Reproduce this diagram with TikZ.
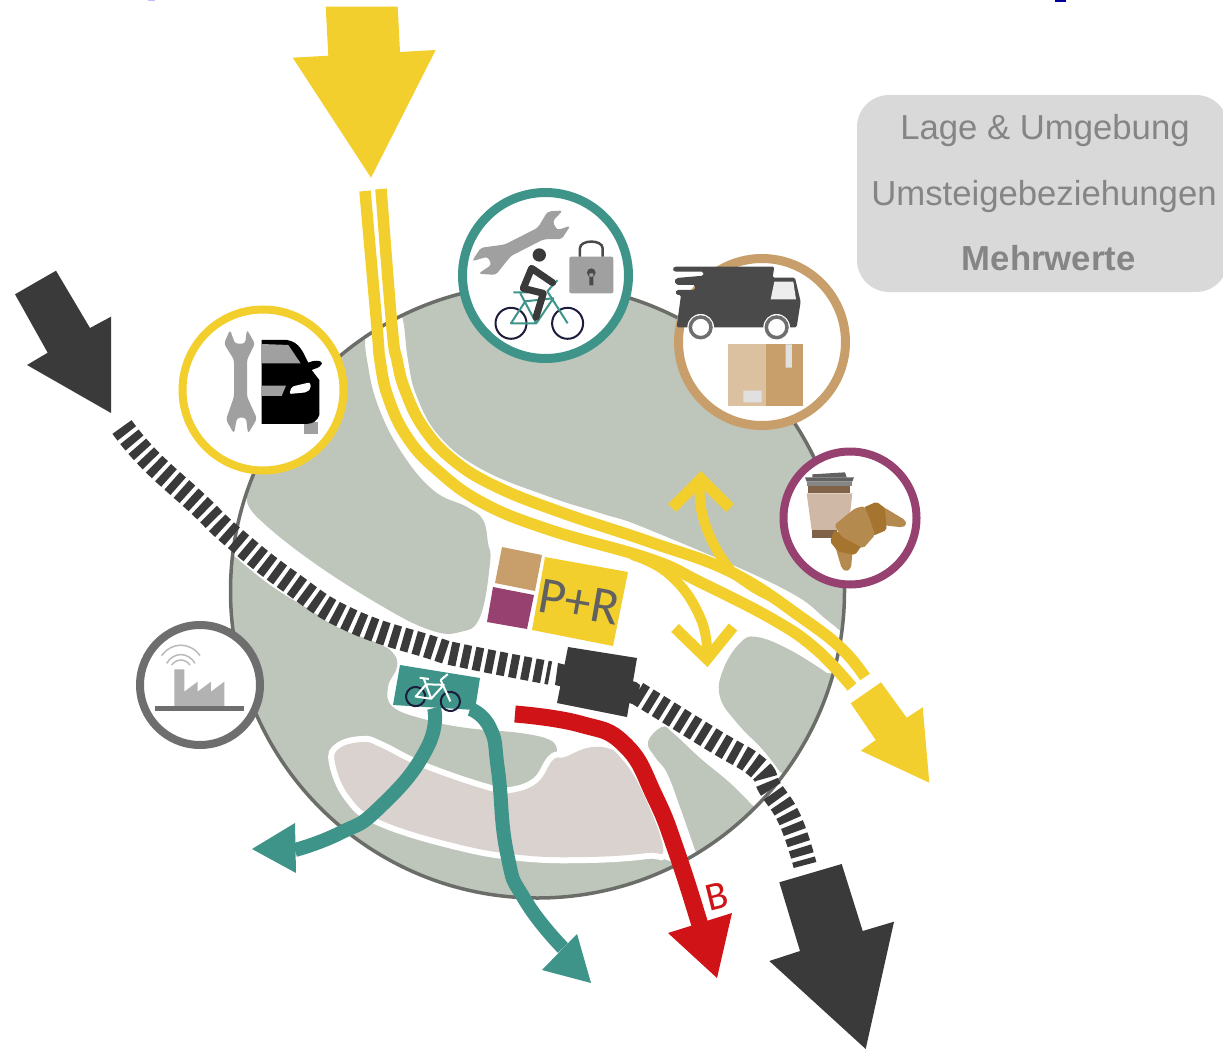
\documentclass[tikz,border=0pt]{standalone}
\usepackage{fontspec}
\setmainfont{Liberation Sans}
\newfontfamily\signfont{Carlito}

\definecolor{roadyellow}{HTML}{F3CF2E}
\definecolor{bikegreen}{HTML}{3F9489}
\definecolor{parcelbrown}{HTML}{C89F6B}
\definecolor{cafepurple}{HTML}{964170}
\definecolor{busred}{HTML}{D01317}
\definecolor{raildark}{HTML}{3A3A3A}
\definecolor{areagreen}{HTML}{BEC6BB}
\definecolor{areaedge}{HTML}{6B6E68}
\definecolor{parkbeige}{HTML}{D9D2CE}
\definecolor{iconwheel}{HTML}{1C1C3C}
\definecolor{icongray}{HTML}{A0A0A0}
\definecolor{truckgray}{HTML}{4A4A4A}
\definecolor{crustlight}{HTML}{B58A4E}
\definecolor{crustdark}{HTML}{A5742F}
\definecolor{cupbrown}{HTML}{806248}
\definecolor{cupbody}{HTML}{D0B8A6}

\tikzset{
  ring/.style = {draw, circle, fill=white, inner sep=0pt, outer sep=0pt},
  sleepers/.style = {draw=raildark, line width=23.5pt, dash pattern=on 8pt off 4.3pt},
  road/.style = {draw=roadyellow, line width=11.5pt},
  branch/.style = {draw=roadyellow, line width=10pt},
  chevron/.style = {draw=roadyellow, line width=11pt, miter limit=10},
  cycle path/.style = {draw=bikegreen, line width=14pt},
  zoomed/.style = {x=0.3333pt, y=-0.3333pt},
  legend/.style = {text=black!48, anchor=base, font=\fontsize{34.7}{40}\selectfont},
  pics/wrench/.style = {code={
    \fill[icongray, rounded corners=3pt] (-10,-52) -- (-5,-38) -- (5,-38) -- (7,-52) -- (15,-38) -- (7,-22)
      -- (7,15) -- (17,37) -- (8,52) -- (6,36) -- (-3,36) -- (-6,52) -- (-14,38) -- (-6,15)
      -- (-6,-22) -- (-16,-38) -- cycle;
  }},
  pics/bikeicon/.style = {code={
    \draw[iconwheel, line width=2pt] (-28.3,0) circle (15.5) (28.3,0) circle (15.5);
    \draw[#1, line width=2pt, line join=round] (-28.3,0) -- (-14,-22) -- (14,-25) -- (-3,0) -- cycle
      (-19,-30) -- (-3,0) (8,-32) -- (28.3,0);
    \draw[#1, line width=2pt] (-26,-31) -- (-11,-31) (8,-32) -- (18,-43);
  }}
}

\begin{document}
\begin{tikzpicture}[x=1pt, y=-1pt]
  \useasboundingbox (0,0) rectangle (1223,1051);

  % leftovers of the cut off title
  \fill[blue!60!black] (1055,0) rectangle (1066,2);
  \fill[blue!25] (148,0) rectangle (155,1.5);

  % area with its green patches
  \fill[white] (537.5,591) circle (307);
  \begin{scope}
    \clip (537.5,591) circle (307);
    \fill[areagreen] plot[smooth, tension=.7] coordinates {(395,300) (403,320) (408,360) (417,397) (440,437) (483,470) (550,497) (600,513) (650,530) (780,587) (827,620) (850,640)}
      -- (900,640) -- (900,200) -- (395,200) -- cycle;
    \fill[areagreen] plot[smooth, tension=.7] coordinates {(365,340) (367,360) (377,403) (400,450) (433,490) (467,507) (483,520) (488,543) (490,563) (480,617) (460,632) (430,630) (380,605) (310,560) (258,518) (247,500)}
      -- (240,400) -- (340,300) -- cycle;
    \fill[areagreen] plot[smooth, tension=.7] coordinates {(233,555) (270,585) (310,610) (337,627) (377,643) (393,653) (397,667) (388,687) (393,707) (427,720) (467,728) (520,733) (550,740) (557,750)}
      -- (555,765) -- (560,800) -- (640,850) -- (672,862) -- (690,900) -- (500,950) -- (200,800) -- (180,600) -- cycle;
    \fill[areagreen] plot[smooth, tension=.7] coordinates {(695,850) (680,807) (667,773) (655,757) (648,742) (662,727) (673,733) (700,758) (730,783) (752,805)}
      -- (800,850) -- (720,900) -- cycle;
    \fill[areagreen] plot[smooth, tension=.7] coordinates {(827,673) (790,650) (757,637) (740,643) (723,670) (720,697) (737,723) (763,750) (780,772)}
      -- (850,800) -- (900,680) -- cycle;
    \fill[parkbeige, preaction={draw=white, line width=12pt}] plot[smooth cycle, tension=.7] coordinates {(565,757) (587,748) (607,748) (620,757) (640,787) (663,847) (647,853) (587,857) (520,855) (453,843) (380,820) (350,797) (335,763) (340,748) (363,742) (380,747) (423,768) (487,790) (510,793) (537,783) (553,760)};
  \end{scope}
  \draw[areaedge, line width=3.5pt] (537.5,591) circle (307);

  % parking squares
  \fill[roadyellow] (545,557) -- (628,572) -- (613,646) -- (532,630) -- cycle;
  \fill[parcelbrown] (502,547) -- (542,555) -- (535,591) -- (495,583) -- cycle;
  \fill[cafepurple] (493,587) -- (534,595) -- (527,629) -- (487,622) -- cycle;
  \node[text=black!62, rotate=-10, font=\signfont\fontsize{52}{54}\selectfont, inner sep=0pt] (parkride) at (579,602) {P+R};

  % rail line and station
  \draw[sleepers] plot[smooth, tension=.8] coordinates {(122,427) (150,460) (197,503) (233,537) (290,582) (350,620) (430,647) (463,656) (550,673)};
  \draw[sleepers] plot[smooth, tension=.8] coordinates {(637,693) (713,740) (757,767) (770,788) (790,820) (805,865)};
  \fill[raildark] (558,663) -- (636,682) -- (640,685) -- (637,705) -- (555,685) -- cycle;
  \fill[raildark] (568,647) -- (637,658) -- (627,717) -- (557,703) -- cycle;
  \fill[raildark] (15,294.3) -- (56,270.7) -- (90,328) -- (111,316.7) -- (111,413) -- (27,365) -- (47.7,352.7) -- cycle;
  \fill[raildark] (779.3,882.3) -- (841.7,864) -- (862.7,931) -- (894,921.7) -- (865.7,1049) -- (769.3,961) -- (800,951) -- cycle;

  % bike station with its two routes
  \fill[bikegreen] (400,665) -- (480,678) -- (475,710) -- (393,705) -- cycle;
  \draw[cycle path] plot[smooth, tension=.9] coordinates {(434,708) (426,750) (380,807) (340,833) (295,850)};
  \draw[cycle path] plot[smooth, tension=.9] coordinates {(470,709) (490,728) (498,770) (507,853) (525,900) (563,948)};
  \fill[bikegreen] (252,849) -- (295,823) -- (296,873) -- cycle;
  \fill[bikegreen] (577,934) -- (591,983) -- (542,970) -- cycle;
  \pic[rotate=-8, scale=.62] (stationbike) at (433,699) {bikeicon=white};

  % bus
  \draw[busred, line width=17pt] plot[smooth, tension=.8] coordinates {(515,714) (580,724) (625,745) (655,797) (677,853) (700,925)};
  \fill[busred] (668,933) -- (732,913) -- (717,978) -- cycle;
  \node[text=busred, rotate=14, font=\signfont\fontsize{40}{42}\selectfont, inner sep=0pt] (busline) at (716.7,896.7) {B};

  % main road
  \draw[branch] plot[smooth, tension=.8] coordinates {(632,555) (670,575) (700,617) (707,655)};
  \draw[chevron] (675,628) -- (707,659) -- (733,627);
  \draw[branch] plot[smooth, tension=.8] coordinates {(700,482) (703,517) (723,560) (747,583) (778,600)};
  \draw[chevron] (672,508) -- (701,479) -- (730,508);
  \draw[road] plot[smooth, tension=.7] coordinates {(365,191) (377,327) (380,360) (388,397) (407,437) (437,470) (483,503) (550,530) (650,559) (700,582) (774,620) (817,650) (852,687)};
  \draw[road] plot[smooth, tension=.7] coordinates {(381,189) (392,327) (397,360) (405,390) (423,427) (453,460) (497,487) (563,513) (650,542) (733,573) (805,620) (843,650) (865,677)};
  \fill[roadyellow] (325.7,6.7) -- (397.7,6.7) -- (400,52) -- (435.7,50) -- (371,177.7) -- (292.7,57.7) -- (328.3,55.7) -- cycle;
  \fill[roadyellow] (881,682.3) -- (906.7,717.7) -- (922.7,707.3) -- (929.3,782.7) -- (860.7,750.7) -- (875.7,740) -- (850.7,703.3) -- cycle;

  % rings
  \node[ring, draw=roadyellow, line width=8pt, minimum size=161pt] (carring) at (263,390) {};
  \node[ring, draw=bikegreen, line width=9pt, minimum size=166pt] (repairring) at (545.5,275.5) {};
  \node[ring, draw=parcelbrown, line width=9pt, minimum size=167pt] (parcelring) at (762,342) {};
  \node[ring, draw=cafepurple, line width=8pt, minimum size=133pt] (cafering) at (850,518) {};
  \node[ring, draw=black!57, line width=8pt, minimum size=120pt] (techring) at (200,685) {};

  % car and wrench
  \pic (carwrench) at (240,381.7) {wrench};
  \begin{scope}[shift={(130,180)}, zoomed]
    \fill[icongray] (522,725) rectangle (563,762);
    \fill[black] (395,480) -- (470,480) .. controls (510,485) and (520,520) .. (535,548) .. controls (550,540) and (575,540) .. (576,550)
      .. controls (570,565) and (555,565) .. (545,570) -- (568,600) -- (568,705) .. controls (560,725) and (550,730) .. (530,732) -- (395,732) -- cycle;
    \fill[icongray] (395,492) -- (475,495) -- (512,550) -- (395,550) -- cycle;
    \fill[icongray] (395,617) -- (468,617) -- (455,648) -- (395,648) -- cycle;
    \fill[white, rounded corners=2pt] (485,620) -- (540,607) -- (543,625) -- (530,637) -- (478,642) -- cycle;
  \end{scope}

  % cyclist, wrench and lock
  \pic[rotate=-63] (bikewrench) at (521,243) {wrench};
  \pic (cyclebike) at (539.3,323.3) {bikeicon=bikegreen};
  \begin{scope}[shift={(130,180)}, zoomed]
    \fill[raildark] (1228,225) circle (20);
    \draw[raildark, line width=7pt, line join=round, line cap=round] (1268,308) -- (1205,265) -- (1180,325) -- (1240,340) -- (1218,412);
    \fill[icongray, rounded corners=2pt] (1318,230) rectangle (1450,340);
    \draw[truckgray, line width=2.5pt] (1350,230) -- (1350,205) .. controls (1350,178) and (1418,178) .. (1418,205) -- (1418,230);
    \fill[truckgray] (1384,278) circle (13) (1378,280) rectangle (1390,316);
  \end{scope}

  % truck and parcel
  \begin{scope}[shift={(640,240)}, zoomed]
    \fill[truckgray, rounded corners=1.5pt] (103,80) -- (403,80) -- (398,113) -- (465,113) -- (482,185) -- (470,262) -- (110,262) -- (123,165) -- (110,165) -- (106,157)
      -- (110,150) -- (165,150) -- (165,135) -- (110,135) -- (103,123) -- (110,114) -- (190,107) -- (190,95) -- (103,95) -- (97,87) -- cycle;
    \fill[black!7] (403,125) -- (460,125) -- (468,178) -- (392,178) -- cycle;
    \fill[white] (182,262) circle (40) (410,262) circle (40);
    \draw[black!57, line width=3.5pt, fill=white] (182,262) circle (31) (410,262) circle (31);
    \fill[parcelbrown!65] (263,313) rectangle (377,497);
    \fill[parcelbrown] (377,313) rectangle (490,497);
    \fill[black!12] (437,313) rectangle (456,383) (310,452) rectangle (365,487);
  \end{scope}

  % coffee and croissant
  \begin{scope}[shift={(775,445)}, zoomed]
    \fill[black!62] (112,88) -- (210,82) -- (215,97) -- (112,97) -- cycle;
    \fill[black!62] (90,97) -- (237,97) -- (232,110) -- (95,110) -- cycle;
    \fill[black!48] (95,110) rectangle (232,122);
    \fill[cupbrown] (100,122) rectangle (225,145);
    \fill[cupbody] (95,145) -- (232,145) -- (220,255) -- (110,255) -- cycle;
    \fill[cupbrown] (112,255) rectangle (185,278);
    \fill[crustlight, rounded corners=2pt] (315,180) -- (390,225) -- (395,240) -- (380,247) -- (320,240) -- cycle;
    \fill[crustlight, rounded corners=2pt] (178,295) -- (235,295) -- (228,370) -- (213,380) -- (200,370) -- cycle;
    \fill[crustdark, rounded corners=2pt] (265,188) -- (305,170) -- (330,190) -- (335,255) -- (295,272) -- cycle;
    \fill[crustdark, rounded corners=2pt] (178,255) -- (165,290) -- (190,320) -- (240,330) -- (258,305) -- (265,300) -- cycle;
    \fill[crustlight, rounded corners=2pt] (178,240) -- (240,190) -- (268,183) -- (285,225) -- (300,270) -- (265,310) -- (200,275) -- cycle;
  \end{scope}

  % factory with signal
  \begin{scope}[shift={(130,610)}, zoomed]
    \fill[black!30] (133,178) -- (163,178) -- (163,245) -- (203,215) -- (203,245) -- (243,215) -- (243,245) -- (283,215) -- (283,290) -- (133,290) -- cycle;
    \draw[black!57, line width=4.5pt] (75,295) -- (342,295);
    \draw[black!27, line width=1.5pt] (95,137) .. controls (125,95) and (180,95) .. (210,137)
      (110,160) .. controls (130,125) and (175,125) .. (195,160) (125,165) .. controls (140,145) and (165,145) .. (180,165);
  \end{scope}

  % legend
  \node[fill=black!15, rounded corners=32pt, minimum width=371pt, minimum height=197pt, inner sep=0pt] (legendbox) at (1042.5,193.5) {};
  \node[legend] (lage) at (1045,139.5) {Lage \& Umgebung};
  \node[legend] (umstieg) at (1044,205) {Umsteigebeziehungen};
  \node[legend, font=\fontsize{34.7}{40}\selectfont\bfseries] (mehrwert) at (1048.7,270.5) {Mehrwerte};
\end{tikzpicture}
\end{document}
